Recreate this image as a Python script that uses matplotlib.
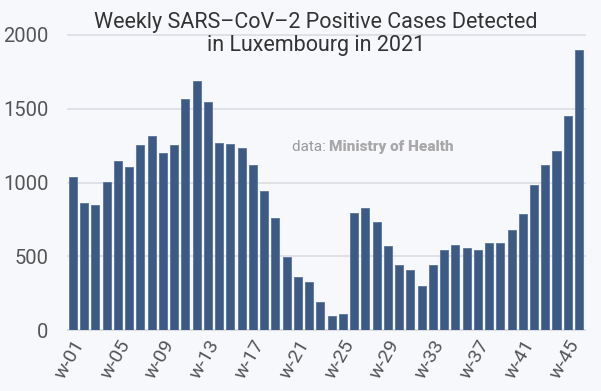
"""Weekly SARS-CoV-2 positive cases detected in Luxembourg, 2021."""

import matplotlib

matplotlib.use("Agg")
import matplotlib.pyplot as plt

weeks = [f"w-{i:02d}" for i in range(1, 47)]
cases = [
    1035, 862, 848, 1002, 1143, 1102, 1252, 1318, 1197, 1252,
    1569, 1687, 1549, 1270, 1263, 1233, 1122, 939, 760, 497,
    356, 324, 188, 93, 109, 791, 830, 730, 567, 440,
    406, 297, 440, 544, 576, 556, 544, 592, 592, 678,
    789, 984, 1122, 1216, 1449, 1900,
]
y_ticks = [0, 500, 1000, 1500, 2000]

BACKGROUND = "#f7f8fc"
BAR_COLOR = "#3c5a83"
TEXT_COLOR = "#333333"
TICK_COLOR = "#555555"

plt.rcParams["font.family"] = ["Roboto", "DejaVu Sans"]

figure = plt.figure(figsize=(6.01, 3.91), dpi=100, facecolor=BACKGROUND)
# axes spans x 68..585 px and y 35..330 px of the 601x391 canvas
axis = figure.add_axes([68 / 601, 61 / 391, 517 / 601, 295 / 391])
axis.set_facecolor(BACKGROUND)

positions = range(len(weeks))
axis.bar(positions, cases, width=0.72, color=BAR_COLOR, edgecolor="#5a7499", linewidth=0.6, zorder=3)

axis.set_xlim(-0.44, len(weeks) - 0.47)
axis.set_ylim(0, 2000)
axis.set_yticks(y_ticks, [str(t) for t in y_ticks])
axis.set_xticks(list(positions)[::4], weeks[::4], rotation=60, ha="right", rotation_mode="anchor")
axis.tick_params(axis="y", length=0, pad=14, labelsize=14.5, labelcolor=TICK_COLOR)
axis.tick_params(axis="x", length=0, pad=5, labelsize=14, labelcolor=TICK_COLOR)

axis.grid(axis="y", color="#dcdde2", linewidth=1.2, zorder=0)
for gridline in axis.get_ygridlines():
    gridline.set_clip_on(False)
for side in ["top", "right", "left"]:
    axis.spines[side].set_visible(False)
axis.spines["bottom"].set_color("#dcdde2")
axis.spines["bottom"].set_linewidth(1.2)

figure.text(
    316 / 601, 1 - 34 / 391,
    "Weekly SARS\u2013CoV\u20132 Positive Cases Detected\nin Luxembourg in 2021",
    ha="center", va="center", fontsize=15.5, color=TEXT_COLOR, linespacing=1.12, zorder=5,
)
source = axis.text(19.45, 1240, "data: ", ha="left", va="center", fontsize=11, color="#9a9a9a", zorder=5)
axis.annotate(
    "Ministry of Health", xy=(1, 0.5), xycoords=source, ha="left", va="center",
    fontsize=11, color="#a8a8a8", fontweight="heavy", zorder=5,
)

figure.savefig("out.png", dpi=100, facecolor=BACKGROUND)
